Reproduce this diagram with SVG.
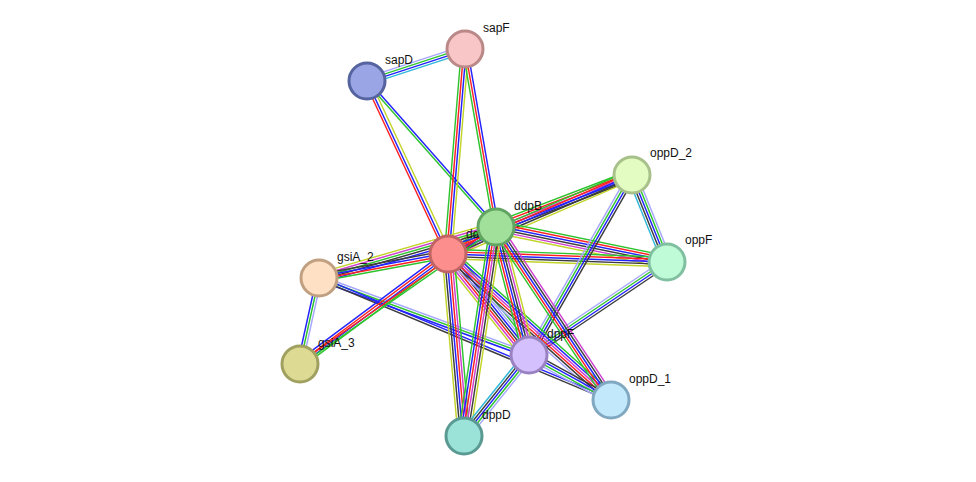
<svg xmlns="http://www.w3.org/2000/svg" width="976" height="482" viewBox="0 0 976 482">
<style>
line{stroke-width:1.45;fill:none}
.r{stroke:#ff2020}.g{stroke:#2ec42e}.b{stroke:#2222ff}.y{stroke:#c2d42a}
.k{stroke:#3c3c3c}.m{stroke:#d040d0}.c{stroke:#30b8d8}.l{stroke:#a6a6ff}
circle{stroke-width:3}
text{font-family:"Liberation Sans",Arial,sans-serif;font-size:12px;fill:#111}
</style>
<rect width="976" height="482" fill="#fff"/>
<g id="edges">
<g transform="translate(367,81) rotate(-18.08)"><line x2="103.1" y1="-3.6" y2="-3.6" class="l"/><line x2="103.1" y1="-1.2" y2="-1.2" class="g"/><line x2="103.1" y1="1.2" y2="1.2" class="b"/><line x2="103.1" y1="3.6" y2="3.6" class="c"/></g>
<g transform="translate(367,81) rotate(64.92)"><line x2="191" y1="2.4" y2="2.4" class="r"/><line x2="191" y1="0" y2="0" class="b"/><line x2="191" y1="-3" y2="-3" class="y"/></g>
<g transform="translate(367,81) rotate(48.54)"><line x2="194.8" y1="1.2" y2="1.2" class="g"/><line x2="194.8" y1="-1.2" y2="-1.2" class="b"/></g>
<g transform="translate(465,49) rotate(94.74)"><line x2="205.7" y1="3.6" y2="3.6" class="g"/><line x2="205.7" y1="1.2" y2="1.2" class="r"/><line x2="205.7" y1="-1.2" y2="-1.2" class="b"/><line x2="205.7" y1="-3.6" y2="-3.6" class="y"/></g>
<g transform="translate(465,49) rotate(80.12)"><line x2="180.7" y1="2.4" y2="2.4" class="g"/><line x2="180.7" y1="0" y2="0" class="r"/><line x2="180.7" y1="-2.4" y2="-2.4" class="b"/></g>
<g transform="translate(448,254) rotate(-29.36)"><line x2="55.1" y1="-6" y2="-6" class="y"/><line x2="55.1" y1="-3.6" y2="-3.6" class="g"/><line x2="55.1" y1="-1.2" y2="-1.2" class="r"/><line x2="55.1" y1="1.2" y2="1.2" class="b"/><line x2="55.1" y1="3.6" y2="3.6" class="k"/><line x2="55.1" y1="6" y2="6" class="m"/></g>
<g transform="translate(496,227) rotate(-20.92)"><line x2="145.6" y1="-4.8" y2="-4.8" class="g"/><line x2="145.6" y1="-2.4" y2="-2.4" class="r"/><line x2="145.6" y1="0" y2="0" class="m"/><line x2="145.6" y1="2.4" y2="2.4" class="b"/><line x2="145.6" y1="4.8" y2="4.8" class="k"/></g>
<g transform="translate(448,254) rotate(-23.24)"><line x2="200.2" y1="-4.8" y2="-4.8" class="g"/><line x2="200.2" y1="-2.4" y2="-2.4" class="r"/><line x2="200.2" y1="0" y2="0" class="b"/><line x2="200.2" y1="2.4" y2="2.4" class="k"/><line x2="200.2" y1="4.8" y2="4.8" class="y"/></g>
<g transform="translate(496,227) rotate(11.57)"><line x2="174.6" y1="-6" y2="-6" class="g"/><line x2="174.6" y1="-3.6" y2="-3.6" class="r"/><line x2="174.6" y1="-1.2" y2="-1.2" class="b"/><line x2="174.6" y1="1.2" y2="1.2" class="k"/><line x2="174.6" y1="3.6" y2="3.6" class="m"/><line x2="174.6" y1="6" y2="6" class="y"/></g>
<g transform="translate(448,254) rotate(2.09)"><line x2="219.2" y1="-4.8" y2="-4.8" class="g"/><line x2="219.2" y1="-2.4" y2="-2.4" class="r"/><line x2="219.2" y1="0" y2="0" class="b"/><line x2="219.2" y1="2.4" y2="2.4" class="k"/><line x2="219.2" y1="4.8" y2="4.8" class="y"/></g>
<g transform="translate(632,175) rotate(68.08)"><line x2="93.8" y1="4.8" y2="4.8" class="c"/><line x2="93.8" y1="2.4" y2="2.4" class="k"/><line x2="93.8" y1="0" y2="0" class="b"/><line x2="93.8" y1="-2.4" y2="-2.4" class="g"/><line x2="93.8" y1="-4.8" y2="-4.8" class="l"/></g>
<g transform="translate(632,175) rotate(119.78)"><line x2="207.4" y1="3.6" y2="3.6" class="l"/><line x2="207.4" y1="1.2" y2="1.2" class="g"/><line x2="207.4" y1="-1.2" y2="-1.2" class="b"/><line x2="207.4" y1="-3.6" y2="-3.6" class="k"/></g>
<g transform="translate(667,262) rotate(146.02)"><line x2="166.4" y1="3.6" y2="3.6" class="l"/><line x2="166.4" y1="1.2" y2="1.2" class="g"/><line x2="166.4" y1="-1.2" y2="-1.2" class="b"/><line x2="166.4" y1="-3.6" y2="-3.6" class="k"/></g>
<g transform="translate(319,278) rotate(-16.07)"><line x2="184.2" y1="-4.8" y2="-4.8" class="y"/><line x2="184.2" y1="-2.4" y2="-2.4" class="m"/><line x2="184.2" y1="0" y2="0" class="g"/><line x2="184.2" y1="2.4" y2="2.4" class="k"/><line x2="184.2" y1="4.8" y2="4.8" class="b"/></g>
<g transform="translate(319,278) rotate(-10.54)"><line x2="131.2" y1="-3.6" y2="-3.6" class="k"/><line x2="131.2" y1="-1.2" y2="-1.2" class="b"/><line x2="131.2" y1="1.2" y2="1.2" class="r"/><line x2="131.2" y1="3.6" y2="3.6" class="g"/></g>
<g transform="translate(319,278) rotate(102.46)"><line x2="88.1" y1="2.4" y2="2.4" class="b"/><line x2="88.1" y1="0" y2="0" class="g"/><line x2="88.1" y1="-2.4" y2="-2.4" class="l"/></g>
<g transform="translate(319,278) rotate(20.14)"><line x2="223.7" y1="-2.4" y2="-2.4" class="l"/><line x2="223.7" y1="0" y2="0" class="g"/><line x2="223.7" y1="2.4" y2="2.4" class="b"/></g>
<g transform="translate(319,278) rotate(22.68)"><line x2="316.5" y1="-1.2" y2="-1.2" class="b"/><line x2="316.5" y1="1.2" y2="1.2" class="k"/></g>
<g transform="translate(300,364) rotate(-36.62)"><line x2="184.4" y1="-3.6" y2="-3.6" class="b"/><line x2="184.4" y1="-1.2" y2="-1.2" class="r"/><line x2="184.4" y1="1.2" y2="1.2" class="b"/><line x2="184.4" y1="3.6" y2="3.6" class="g"/></g>
<g transform="translate(300,364) rotate(-34.95)"><line x2="239.1" y1="-1.2" y2="-1.2" class="r"/><line x2="239.1" y1="1.2" y2="1.2" class="g"/></g>
<g transform="translate(448,254) rotate(51.27)"><line x2="129.5" y1="-7.2" y2="-7.2" class="g"/><line x2="129.5" y1="-4.8" y2="-4.8" class="l"/><line x2="129.5" y1="-2.4" y2="-2.4" class="b"/><line x2="129.5" y1="0" y2="0" class="k"/><line x2="129.5" y1="2.4" y2="2.4" class="r"/><line x2="129.5" y1="4.8" y2="4.8" class="m"/><line x2="129.5" y1="7.2" y2="7.2" class="y"/></g>
<g transform="translate(448,254) rotate(41.85)"><line x2="218.8" y1="-6" y2="-6" class="g"/><line x2="218.8" y1="-3.6" y2="-3.6" class="b"/><line x2="218.8" y1="-1.2" y2="-1.2" class="m"/><line x2="218.8" y1="1.2" y2="1.2" class="r"/><line x2="218.8" y1="3.6" y2="3.6" class="k"/><line x2="218.8" y1="6" y2="6" class="l"/></g>
<g transform="translate(448,254) rotate(84.98)"><line x2="182.7" y1="6" y2="6" class="y"/><line x2="182.7" y1="3.6" y2="3.6" class="k"/><line x2="182.7" y1="1.2" y2="1.2" class="b"/><line x2="182.7" y1="-1.2" y2="-1.2" class="r"/><line x2="182.7" y1="-3.6" y2="-3.6" class="m"/><line x2="182.7" y1="-6" y2="-6" class="g"/></g>
<g transform="translate(496,227) rotate(75.54)"><line x2="132.2" y1="6" y2="6" class="g"/><line x2="132.2" y1="3.6" y2="3.6" class="r"/><line x2="132.2" y1="1.2" y2="1.2" class="b"/><line x2="132.2" y1="-1.2" y2="-1.2" class="k"/><line x2="132.2" y1="-3.6" y2="-3.6" class="m"/><line x2="132.2" y1="-6" y2="-6" class="y"/></g>
<g transform="translate(496,227) rotate(56.39)"><line x2="207.7" y1="4.8" y2="4.8" class="g"/><line x2="207.7" y1="2.4" y2="2.4" class="r"/><line x2="207.7" y1="0" y2="0" class="b"/><line x2="207.7" y1="-2.4" y2="-2.4" class="k"/><line x2="207.7" y1="-4.8" y2="-4.8" class="m"/></g>
<g transform="translate(496,227) rotate(98.7)"><line x2="211.4" y1="6" y2="6" class="g"/><line x2="211.4" y1="3.6" y2="3.6" class="b"/><line x2="211.4" y1="1.2" y2="1.2" class="r"/><line x2="211.4" y1="-1.2" y2="-1.2" class="m"/><line x2="211.4" y1="-3.6" y2="-3.6" class="k"/><line x2="211.4" y1="-6" y2="-6" class="y"/></g>
<g transform="translate(529,355) rotate(28.76)"><line x2="93.5" y1="-3.6" y2="-3.6" class="k"/><line x2="93.5" y1="-1.2" y2="-1.2" class="b"/><line x2="93.5" y1="1.2" y2="1.2" class="g"/><line x2="93.5" y1="3.6" y2="3.6" class="l"/></g>
<g transform="translate(529,355) rotate(128.75)"><line x2="103.9" y1="4.8" y2="4.8" class="c"/><line x2="103.9" y1="2.4" y2="2.4" class="k"/><line x2="103.9" y1="0" y2="0" class="b"/><line x2="103.9" y1="-2.4" y2="-2.4" class="g"/><line x2="103.9" y1="-4.8" y2="-4.8" class="l"/></g>
</g>
<g id="node-sapF"><circle cx="465" cy="49" r="18" fill="#f8c6c6" stroke="#bb8888"/><text x="483" y="32">sapF</text></g>
<g id="node-sapD"><circle cx="367" cy="81" r="18" fill="#9aa5e6" stroke="#55649e"/><text x="385" y="64">sapD</text></g>
<g id="node-oppD_2"><circle cx="632" cy="175" r="18" fill="#e2fcc2" stroke="#a8c08a"/><text x="650" y="157">oppD_2</text></g>
<g id="node-dd"><circle cx="448" cy="254" r="18" fill="#fd8e8e" stroke="#c06464"/><text x="466" y="238">dd</text></g>
<g id="node-ddpB"><circle cx="496" cy="227" r="18" fill="#a0e09a" stroke="#62a462"/><text x="514" y="210">ddpB</text></g>
<g id="node-oppF"><circle cx="667" cy="262" r="18" fill="#c0fbd8" stroke="#80c0a0"/><text x="685" y="244">oppF</text></g>
<g id="node-gsiA_2"><circle cx="319" cy="278" r="18" fill="#fee0c4" stroke="#c0a080"/><text x="337" y="261">gsiA_2</text></g>
<g id="node-gsiA_3"><circle cx="300" cy="364" r="18" fill="#ddda94" stroke="#a0a060"/><text x="318" y="347">gsiA_3</text></g>
<g id="node-dppF"><circle cx="529" cy="355" r="18" fill="#d4c0fc" stroke="#9a82c2"/><text x="547" y="338">dppF</text></g>
<g id="node-oppD_1"><circle cx="611" cy="400" r="18" fill="#c2e8fc" stroke="#80a8c0"/><text x="629" y="383">oppD_1</text></g>
<g id="node-dppD"><circle cx="464" cy="436" r="18" fill="#9be2d9" stroke="#5a9a92"/><text x="482" y="419">dppD</text></g>
</svg>
